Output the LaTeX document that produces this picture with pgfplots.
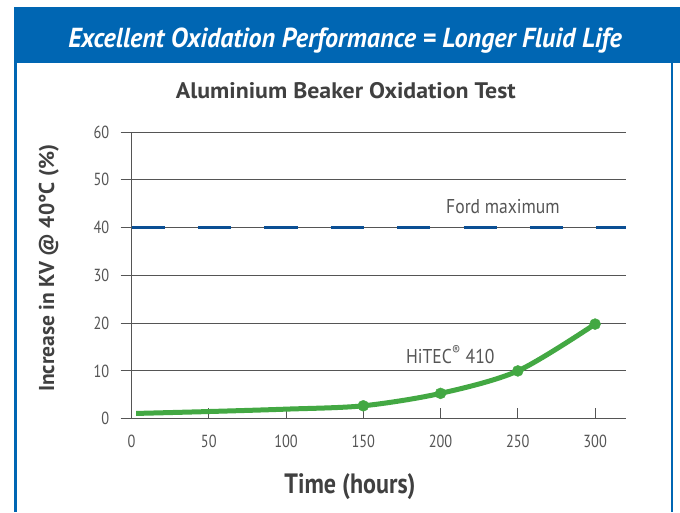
\documentclass[border=0pt]{standalone}
\usepackage{fontspec}
\setmainfont{PT Sans}[FakeStretch=0.82]
\newfontfamily\hdrfont{PT Sans}[FakeStretch=0.95]
\newfontfamily\ttlfont{PT Sans}[FakeStretch=1.06]
\newfontfamily\ylfont{PT Sans}[FakeStretch=1.0]
\newfontfamily\xlfont{PT Sans}[FakeStretch=0.86]
\newfontfamily\annfont{PT Sans}[FakeStretch=0.88]
\usepackage{pgfplots}
\pgfplotsset{compat=1.18}
\definecolor{bandblue}{HTML}{0066B3}
\definecolor{dashblue}{HTML}{0B4F94}
\definecolor{hgreen}{HTML}{43A843}
\definecolor{txt}{HTML}{404040}
\definecolor{ticktxt}{HTML}{555555}
\definecolor{gridgray}{HTML}{555555}

\begin{document}
\begin{tikzpicture}
\useasboundingbox (0pt,0pt) rectangle (680pt,512pt);
\fill[white] (0pt,0pt) rectangle (680pt,512pt);
\fill[bandblue] (14pt,448.7pt) rectangle (680pt,504.7pt);
\fill[bandblue] (14pt,0pt) rectangle (17.3pt,449pt);
\fill[bandblue] (670.8pt,0pt) rectangle (673.3pt,449pt);
\node[anchor=base, text=white, inner sep=0pt, font=\hdrfont\fontsize{27.5}{27.5}\selectfont\bfseries\itshape] at (345pt,464.3pt) {Excellent Oxidation Performance = Longer Fluid Life};
\node[anchor=base, text=txt, inner sep=0pt, font=\ttlfont\fontsize{22.5}{22.5}\selectfont\bfseries] at (345.8pt,413pt) {Aluminium Beaker Oxidation Test};
\node[anchor=base, text=txt, inner sep=0pt, rotate=90, font=\ylfont\fontsize{21.5}{21.5}\selectfont\bfseries] at (54pt,243.7pt) {Increase in KV @ 40°C (\%)};
\node[anchor=base, text=txt, inner sep=0pt, font=\xlfont\fontsize{28}{28}\selectfont\bfseries] at (350pt,18.7pt) {Time (hours)};
\begin{axis}[
  at={(131.5pt,93.3pt)}, anchor=south west,
  scale only axis, width=494.5pt, height=286.7pt,
  xmin=0, xmax=320, ymin=0, ymax=60,
  axis x line*=bottom, axis y line*=left,
  axis line style={draw=gridgray, line width=1.1pt},
  ymajorgrids, major grid style={draw=gridgray, line width=1pt},
  xtick={0,50,100,150,200,250,300},
  ytick={0,10,20,30,40,50,60},
  major tick length=11pt,
  tick style={draw=gridgray, line width=1pt},
  ytick style={xshift=-11pt},
  /pgf/number format/assume math mode=true,
  tick label style={font=\fontsize{17.5}{17.5}\selectfont, text=ticktxt},
  xticklabel style={anchor=base, inner sep=0pt, yshift=-29pt},
  yticklabel style={anchor=east, inner sep=0pt, xshift=-22pt},
  clip=false,
]
\addplot[dashblue, line width=3.5pt, dash pattern=on 33.3pt off 33.1pt] coordinates {(0,40) (320,40)};
\addplot[hgreen, line width=5pt, smooth, tension=0.5] coordinates {(3,1.1) (50,1.5) (100,2.0) (150,2.7) (200,5.3) (250,10) (300,19.8)};
\addplot[hgreen, only marks, mark=*, mark size=5.5pt] coordinates {(150,2.7) (200,5.3) (250,10) (300,19.8)};
\node[anchor=base, text=ticktxt, inner sep=0pt, font=\annfont\fontsize{20}{20}\selectfont] at (axis cs:240.4,43.0) {Ford maximum};
\node[anchor=base, text=ticktxt, inner sep=0pt, font=\annfont\fontsize{20}{20}\selectfont] at (axis cs:206.3,11.6) {HiTEC\textsuperscript{®} 410};
\end{axis}
\end{tikzpicture}
\end{document}
